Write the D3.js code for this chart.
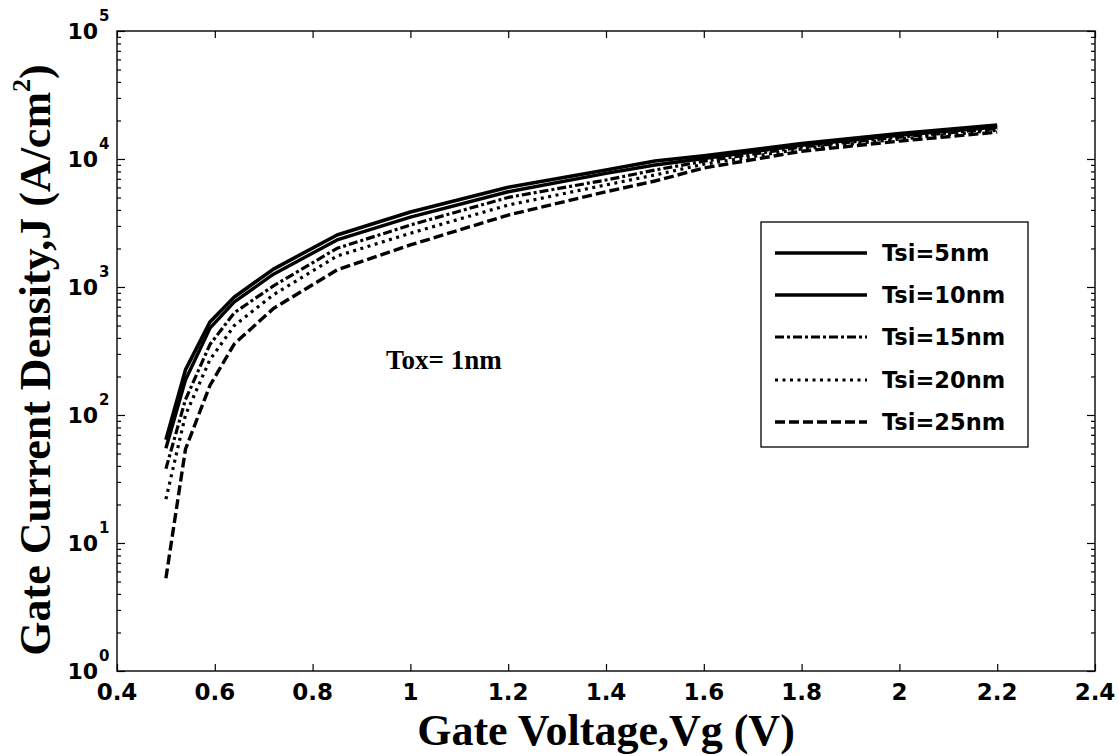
<!DOCTYPE html>
<html>
<head>
<meta charset="utf-8">
<script src="https://cdn.jsdelivr.net/npm/d3@7"></script>
<style>
  body { margin: 0; background: #fff; }
  svg { display: block; }
</style>
</head>
<body>
<svg id="chart" width="1119" height="756"></svg>
<script>
// Gate voltage samples (V)
const gateVoltage = [0.5, 0.54, 0.59, 0.64, 0.72, 0.85, 1.0, 1.2, 1.4, 1.5, 1.6, 1.8, 2.0, 2.2];

// Gate current density (A/cm^2) for each silicon film thickness
const jTsi5  = [64, 225, 533, 835, 1380, 2550, 3850, 6010, 8200, 9650, 10600, 13200, 15800, 18400];
const jTsi10 = [55, 188, 477, 764, 1260, 2330, 3520, 5550, 7730, 8980, 10100, 12800, 15300, 17800];
const jTsi15 = [38, 132, 355, 630, 1020, 2005, 3050, 5010, 6850, 8200, 9600, 12400, 14800, 17300];
const jTsi20 = [22, 100, 270, 500, 870, 1745, 2630, 4370, 6270, 7500, 9100, 12000, 14300, 16800];
const jTsi25 = [5.3, 54, 170, 360, 680, 1360, 2130, 3650, 5550, 6730, 8500, 11500, 13800, 16200];

const seriesLabels = ["Tsi=5nm", "Tsi=10nm", "Tsi=15nm", "Tsi=20nm", "Tsi=25nm"];
const seriesValues = [jTsi5, jTsi10, jTsi15, jTsi20, jTsi25];

const xTicks = [0.4, 0.6, 0.8, 1, 1.2, 1.4, 1.6, 1.8, 2, 2.2, 2.4];
const xTickLabels = ["0.4", "0.6", "0.8", "1", "1.2", "1.4", "1.6", "1.8", "2", "2.2", "2.4"];
const yExponents = [0, 1, 2, 3, 4, 5];

// line appearance per series
const strokeStyles = [
  { width: 3.6, dash: null },
  { width: 3.4, dash: null },
  { width: 3.2, dash: "9,3,3,3" },
  { width: 3.2, dash: "3,4.5" },
  { width: 3.4, dash: "10,4" }
];

const svg = d3.select("#chart");
const plot = { left: 117, top: 31, right: 1095, bottom: 671 };

const x = d3.scaleLinear().domain([0.4, 2.4]).range([plot.left, plot.right]);
const y = d3.scaleLog().domain([1, 1e5]).range([plot.bottom, plot.top]);

const tickFont = "'DejaVu Sans', sans-serif";
const titleFont = "'Liberation Serif', 'Times New Roman', serif";

// minor log ticks
const minorTicks = [];
for (let e = 0; e < 5; e++) for (let m = 2; m <= 9; m++) minorTicks.push(m * Math.pow(10, e));
const majorY = yExponents.map(e => Math.pow(10, e));

function styleAxis(g) {
  g.select(".domain").remove();
  g.selectAll("line").attr("stroke", "#000").attr("stroke-width", 1.2);
  g.selectAll("text").remove();
}

// ticks on all four sides, pointing inward
svg.append("g").attr("transform", `translate(0,${plot.bottom})`)
  .call(d3.axisBottom(x).tickValues(xTicks).tickSize(-7)).call(styleAxis);
svg.append("g").attr("transform", `translate(0,${plot.top})`)
  .call(d3.axisTop(x).tickValues(xTicks).tickSize(-7)).call(styleAxis);
svg.append("g").attr("transform", `translate(${plot.left},0)`)
  .call(d3.axisLeft(y).tickValues(majorY).tickSize(-8)).call(styleAxis);
svg.append("g").attr("transform", `translate(${plot.left},0)`)
  .call(d3.axisLeft(y).tickValues(minorTicks).tickSize(-4)).call(styleAxis);
svg.append("g").attr("transform", `translate(${plot.right},0)`)
  .call(d3.axisRight(y).tickValues(majorY).tickSize(-8)).call(styleAxis);
svg.append("g").attr("transform", `translate(${plot.right},0)`)
  .call(d3.axisRight(y).tickValues(minorTicks).tickSize(-4)).call(styleAxis);

// frame
svg.append("rect")
  .attr("x", plot.left).attr("y", plot.top)
  .attr("width", plot.right - plot.left).attr("height", plot.bottom - plot.top)
  .attr("fill", "none").attr("stroke", "#000").attr("stroke-width", 1.4);

// x tick labels
svg.append("g").selectAll("text").data(xTicks).join("text")
  .attr("x", d => x(d)).attr("y", plot.bottom + 29)
  .attr("text-anchor", "middle")
  .attr("font-family", tickFont).attr("font-weight", "bold").attr("font-size", 23)
  .text((d, i) => xTickLabels[i]);

// y tick labels as powers of ten
const yLab = svg.append("g").selectAll("g").data(yExponents).join("g")
  .attr("transform", d => `translate(98,${y(Math.pow(10, d))})`);
yLab.append("text")
  .attr("x", 0).attr("y", 8).attr("text-anchor", "end")
  .attr("font-family", tickFont).attr("font-weight", "bold").attr("font-size", 22)
  .text("10");
yLab.append("text")
  .attr("x", 1).attr("y", -10)
  .attr("font-family", tickFont).attr("font-weight", "bold").attr("font-size", 15)
  .text(d => d);

// curves
const line = d3.line().x(d => x(d[0])).y(d => y(d[1]));
seriesValues.forEach((vals, i) => {
  const pts = gateVoltage.map((v, k) => [v, vals[k]]);
  svg.append("path")
    .attr("d", line(pts))
    .attr("fill", "none").attr("stroke", "#000")
    .attr("stroke-width", strokeStyles[i].width)
    .attr("stroke-linejoin", "round")
    .attr("stroke-dasharray", strokeStyles[i].dash);
});

// annotation
svg.append("text")
  .attr("x", 386).attr("y", 369)
  .attr("font-family", titleFont).attr("font-weight", "bold").attr("font-size", 27)
  .text("Tox= 1nm");

// legend
const legend = svg.append("g");
legend.append("rect")
  .attr("x", 761).attr("y", 222).attr("width", 267).attr("height", 225)
  .attr("fill", "#fff").attr("stroke", "#000").attr("stroke-width", 1.3);
const rowY = [253, 295, 337, 380, 422];
seriesLabels.forEach((name, i) => {
  legend.append("line")
    .attr("x1", 775).attr("x2", 867).attr("y1", rowY[i]).attr("y2", rowY[i])
    .attr("stroke", "#000").attr("stroke-width", strokeStyles[i].width)
    .attr("stroke-dasharray", strokeStyles[i].dash);
  legend.append("text")
    .attr("x", 882).attr("y", rowY[i] + 8)
    .attr("font-family", tickFont).attr("font-weight", "bold").attr("font-size", 22.5)
    .text(name);
});

// axis titles
svg.append("text")
  .attr("x", 606).attr("y", 745).attr("text-anchor", "middle")
  .attr("font-family", titleFont).attr("font-weight", "bold").attr("font-size", 44)
  .text("Gate Voltage,Vg (V)");

const yTitle = svg.append("text")
  .attr("transform", "translate(50,360) rotate(-90)")
  .attr("text-anchor", "middle")
  .attr("font-family", titleFont).attr("font-weight", "bold").attr("font-size", 44);
yTitle.append("tspan").text("Gate Current Density,J (A/cm");
yTitle.append("tspan").attr("font-size", 26).attr("dy", -20).text("2");
yTitle.append("tspan").attr("dy", 20).text(")");
</script>
</body>
</html>
